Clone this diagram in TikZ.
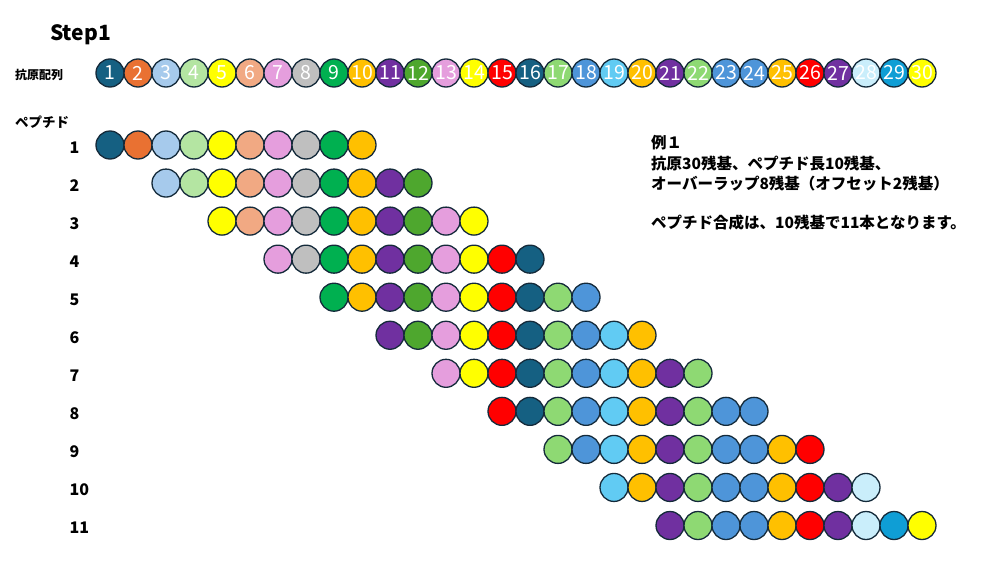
\documentclass[tikz,border=0pt]{standalone}
\usepackage{fontspec}
\setmainfont{Noto Sans CJK JP}
\newfontfamily\numfont{Noto Sans CJK JP}

\definecolor{cdteal}{HTML}{156082}
\definecolor{corange}{HTML}{E97132}
\definecolor{clblue}{HTML}{A6CAEC}
\definecolor{clgreen}{HTML}{B4E5A2}
\definecolor{cyellow}{HTML}{FFFF00}
\definecolor{csalmon}{HTML}{F1A983}
\definecolor{cpink}{HTML}{E59EDD}
\definecolor{cgray}{HTML}{BFBFBF}
\definecolor{cgreen}{HTML}{00B050}
\definecolor{cgold}{HTML}{FFC000}
\definecolor{cpurple}{HTML}{7030A0}
\definecolor{cdgreen}{HTML}{4EA72E}
\definecolor{cred}{HTML}{FF0000}
\definecolor{cmgreen}{HTML}{8ED973}
\definecolor{cblue}{HTML}{4E95D9}
\definecolor{csky}{HTML}{61CBF3}
\definecolor{cpale}{HTML}{CAEEFB}
\definecolor{cocean}{HTML}{0F9ED5}
\definecolor{rim}{HTML}{142A3A}

% residue colours of the antigen, 1 ... 30
\def\antigen{cdteal,corange,clblue,clgreen,cyellow,csalmon,cpink,cgray,cgreen,cgold,
             cpurple,cdgreen,cpink,cyellow,cred,cdteal,cmgreen,cblue,csky,cgold,
             cpurple,cmgreen,cblue,cblue,cgold,cred,cpurple,cpale,cocean,cyellow}
\foreach \c [count=\i] in \antigen {\xglobal\colorlet{res\i}{\c}}

\begin{document}
\begin{tikzpicture}[
        x = 1pt, y = -1pt,
        res/.style = {circle, draw=rim, line width=1.3pt, minimum size=28pt, inner sep=0pt},
        num/.style = {text=white, font=\numfont\fontsize{19.5}{20}\selectfont},
        row/.style = {anchor=west, inner sep=0pt, font=\bfseries\fontsize{16}{16}\selectfont},
        note/.style = {anchor=base west, inner sep=0pt, font=\bfseries\fontsize{15.5}{16}\selectfont}
    ]
    \useasboundingbox (0,0) rectangle (1000,562);
    \node (step) [anchor=base west, inner sep=0pt, font=\bfseries\fontsize{21}{21}\selectfont] at (50,40) {Step1};
    \node (seq) [anchor=west, inner sep=0pt, font=\bfseries\fontsize{12}{12}\selectfont] at (15,74.5) {抗原配列};
    \node (pep) [anchor=west, inner sep=0pt, font=\bfseries\fontsize{13.5}{14}\selectfont] at (15,122.5) {ペプチド};
    % antigen sequence
    \foreach \i in {1,...,30}
        \node (a\i) [res, num, fill=res\i] at ({110+28*(\i-1)},73) {\i};
    % overlapping peptides
    \foreach \k in {1,...,11} {
        \node (l\k) [row] at (69.5,{147.5+38.05*(\k-1)}) {\k};
        \foreach \j in {0,...,9} {
            \pgfmathtruncatemacro{\r}{2*\k-1+\j}
            \node (p\k-\j) [res, fill=res\r] at ({110+56*(\k-1)+28*\j},{145+38.05*(\k-1)}) {};
        }
    }
    \node (ex) [note] at (651,148) {例１};
    \node (ex1) [note] at (651,169) {抗原30残基、ペプチド長10残基、};
    \node (ex2) [note] at (651,189.5) {オーバーラップ8残基（オフセット2残基）};
    \node (ex3) [note] at (651,228) {ペプチド合成は、10残基で11本となります。};
\end{tikzpicture}
\end{document}
